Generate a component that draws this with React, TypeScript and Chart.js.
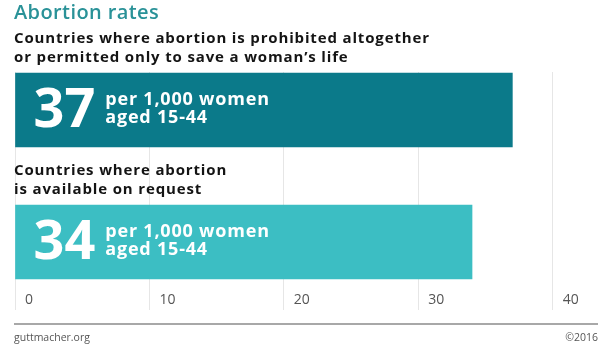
import React, { useEffect, useRef } from 'react';
import { Chart, registerables } from 'chart.js';

Chart.register(...registerables);

const title = 'Abortion rates';
const categoryLines: string[][] = [
  ['Countries where abortion is prohibited altogether', 'or permitted only to save a woman’s life'],
  ['Countries where abortion', 'is available on request'],
];
const rates = [37, 34];
const barColors = ['#0b7a8a', '#3cbec3'];
const unitLines = ['per 1,000 women', 'aged 15-44'];
const xTickValues = [0, 10, 20, 30, 40];
const xMin = 0;
const xMax = 43;
const sourceText = 'guttmacher.org';
const yearText = '©2016';

const FONT = '"Open Sans", sans-serif';

const annotate = {
  id: 'annotate',
  afterDatasetsDraw(chart: any) {
    const ctx = chart.ctx as any;
    const meta = chart.getDatasetMeta(0);
    ctx.save();
    ctx.textAlign = 'left';
    ctx.textBaseline = 'alphabetic';
    ctx.fillStyle = '#2a9298';
    ctx.font = `600 20px ${FONT}`;
    ctx.letterSpacing = '0.4px';
    ctx.fillText(title, 14, 19);

    meta.data.forEach((bar: any, i: number) => {
      const p = bar.getProps(['x', 'y', 'base', 'height'], true);
      const top = p.y - p.height / 2;
      ctx.fillStyle = '#141414';
      ctx.font = `700 15px ${FONT}`;
      ctx.letterSpacing = '0.85px';
      categoryLines[i].forEach((line, j) => ctx.fillText(line, 14, top - 30 + j * 18.5));

      ctx.fillStyle = '#ffffff';
      ctx.letterSpacing = '0px';
      ctx.font = `700 54px ${FONT}`;
      const num = String(rates[i]);
      const nx = p.base + 18;
      ctx.fillText(num, nx, p.y + 17);
      const w = ctx.measureText(num).width;
      ctx.font = `700 18px ${FONT}`;
      ctx.letterSpacing = '0.8px';
      unitLines.forEach((line, j) => ctx.fillText(line, nx + w + 10, p.y - 5 + j * 18));
    });

    ctx.letterSpacing = '0px';
    ctx.strokeStyle = '#a8a8a8';
    ctx.lineWidth = 2;
    ctx.beginPath();
    ctx.moveTo(14, 324);
    ctx.lineTo(598, 324);
    ctx.stroke();

    ctx.fillStyle = '#555555';
    ctx.font = `400 10.5px ${FONT}`;
    ctx.fillText(sourceText, 14, 341);
    ctx.textAlign = 'right';
    ctx.fillText(yearText, 598, 341);
    ctx.restore();
  },
};

export default function App() {
  const ref = useRef<HTMLCanvasElement | null>(null);
  useEffect(() => {
    if (!ref.current) return;
    const chart = new Chart(ref.current, {
      type: 'bar',
      data: {
        datasets: [
          {
            data: rates.map((v, i) => ({ x: v, y: i })) as any,
            backgroundColor: barColors,
            borderWidth: 0,
            barThickness: 74,
          },
        ],
      },
      options: {
        indexAxis: 'y',
        animation: false,
        responsive: true,
        maintainAspectRatio: false,
        layout: { padding: { left: 15, right: 7, top: 72, bottom: 47 } },
        plugins: { legend: { display: false }, tooltip: { enabled: false } },
        scales: {
          x: {
            type: 'linear',
            min: xMin,
            max: xMax,
            afterBuildTicks: (axis: any) => {
              axis.ticks = xTickValues.map((v) => ({ value: v }));
            },
            grid: { color: '#e6e6e6', drawTicks: false, lineWidth: 1 },
            border: { display: false },
            ticks: {
              align: 'start',
              labelOffset: 10,
              padding: -18,
              autoSkip: false,
              maxRotation: 0,
              color: '#555555',
              font: { family: 'Open Sans', size: 14 },
            },
          },
          y: {
            type: 'linear',
            min: -0.288,
            max: 1.515,
            reverse: true,
            offset: false,
            display: false,
          },
        },
      },
      plugins: [annotate],
    });
    return () => chart.destroy();
  }, []);
  return (
    <div style={{ position: 'absolute', left: 0, top: 0, width: 600, height: 357, background: '#fff' }}>
      <canvas ref={ref} />
    </div>
  );
}
